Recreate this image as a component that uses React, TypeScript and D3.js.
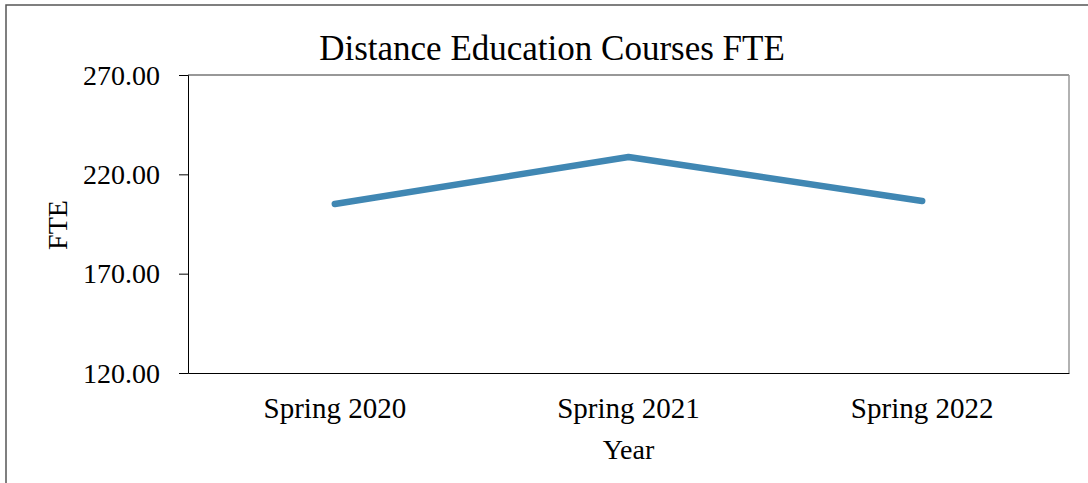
import React, { useEffect, useRef } from 'react';
import * as d3 from 'd3';

const categories = ['Spring 2020', 'Spring 2021', 'Spring 2022'];
const fteValues = [205.1, 228.7, 206.6];
const yTicks = [120, 170, 220, 270];

const W = 1088;
const H = 483;
const margin = { top: 75, right: 19, bottom: 110, left: 188 };
const font = '"Liberation Serif", "Times New Roman", serif';

export default function App() {
  const ref = useRef<SVGSVGElement>(null);

  useEffect(() => {
    const svg = d3.select(ref.current);
    svg.selectAll('*').remove();

    const width = W - margin.left - margin.right;
    const height = H - margin.top - margin.bottom;

    // outer chart border
    svg.append('rect')
      .attr('x', 6).attr('y', 5)
      .attr('width', W + 10).attr('height', H + 10)
      .attr('fill', 'none')
      .attr('stroke', '#555')
      .attr('stroke-width', 1.5);

    const g = svg.append('g')
      .attr('transform', `translate(${margin.left},${margin.top})`);

    const x = d3.scaleBand().domain(categories).range([0, width]).padding(0);
    const y = d3.scaleLinear().domain([120, 270]).range([height, 0]);

    // plot area frame (top and right)
    g.append('line').attr('x1', 0).attr('x2', width).attr('y1', 0).attr('y2', 0)
      .attr('stroke', '#333').attr('stroke-width', 1.2);
    g.append('line').attr('x1', width).attr('x2', width).attr('y1', 0).attr('y2', height)
      .attr('stroke', '#999').attr('stroke-width', 1.5);

    const yAxis = g.append('g')
      .call(d3.axisLeft(y).tickValues(yTicks).tickSize(9).tickPadding(19)
        .tickFormat(d => d3.format('.2f')(d as number)));
    yAxis.select('.domain').attr('stroke', '#000');
    yAxis.selectAll('.tick line').attr('stroke', '#000');
    yAxis.selectAll('text')
      .attr('font-family', font).attr('font-size', 28).attr('fill', '#000')
      .attr('dy', '0.33em');

    const xAxis = g.append('g')
      .attr('transform', `translate(0,${height})`)
      .call(d3.axisBottom(x).tickSize(0).tickPadding(24).tickSizeOuter(0));
    xAxis.select('.domain').attr('stroke', '#000');
    xAxis.selectAll('text')
      .attr('font-family', font).attr('font-size', 29).attr('fill', '#000');

    const line = d3.line<number>()
      .x((_, i) => (x(categories[i]) as number) + x.bandwidth() / 2)
      .y(d => y(d));

    g.append('path')
      .datum(fteValues)
      .attr('d', line)
      .attr('fill', 'none')
      .attr('stroke', '#4087b3')
      .attr('stroke-width', 6.5)
      .attr('stroke-linecap', 'round')
      .attr('stroke-linejoin', 'round');

    // title
    svg.append('text')
      .attr('x', 552).attr('y', 60)
      .attr('text-anchor', 'middle')
      .attr('font-family', font).attr('font-size', 35)
      .text('Distance Education Courses FTE');

    // axis titles
    svg.append('text')
      .attr('x', margin.left + width / 2).attr('y', 459)
      .attr('text-anchor', 'middle')
      .attr('font-family', font).attr('font-size', 28)
      .text('Year');

    svg.append('text')
      .attr('transform', 'translate(67,225) rotate(-90)')
      .attr('text-anchor', 'middle')
      .attr('font-family', font).attr('font-size', 28)
      .text('FTE');
  }, []);

  return (
    <svg ref={ref} width={W} height={H}
      style={{ position: 'absolute', left: 0, top: 0, background: '#fff' }} />
  );
}
